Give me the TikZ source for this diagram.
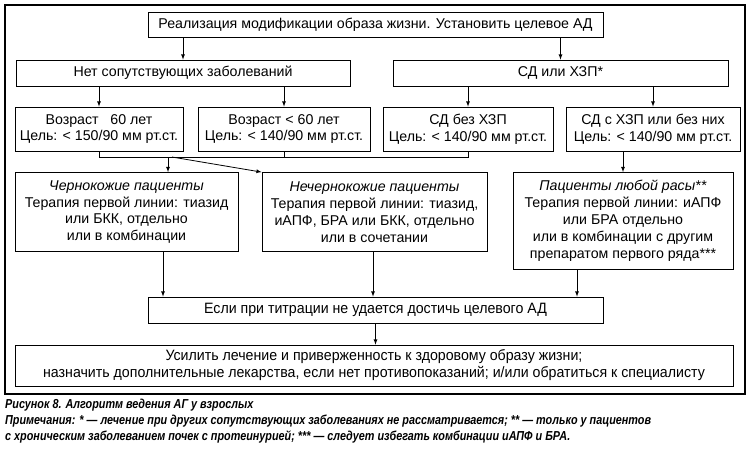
\documentclass[tikz,border=0pt]{standalone}
\usepackage{fontspec}
\setmainfont{Liberation Sans}
\newfontfamily\condfont{Liberation Sans}[FakeStretch=0.945]
\newfontfamily\capfont{Liberation Sans}[FakeStretch=0.833]
\newcommand\boxsize{\fontsize{14.2}{16.9}\selectfont}
\newcommand\condsize{\fontsize{15}{17}\selectfont}

\begin{document}
\begin{tikzpicture}[>=latex, x=1pt, y=-1pt, font=\boxsize,
    box/.style={draw, line width=0.8pt, align=center, inner sep=2pt},
    link/.style={line width=0.8pt}]
        \useasboundingbox (0,0) rectangle (751,451);
        \draw[line width=1.2pt] (5,5) rectangle (745,394);
        %top rows
        \node[box, minimum width=455, minimum height=25] (start) at (375.5,24.5) {Реализация модификации образа жизни. Установить целевое АД};
        \node[box, minimum width=334, minimum height=26] (nocom) at (183,73) {Нет сопутствующих заболеваний};
        \node[box, minimum width=335, minimum height=26] (dmckd) at (560.5,73) {СД или ХЗП*};
        %target values
        \node[box, minimum width=168, minimum height=44] (old) at (99,129) {Возраст\ \ \ 60 лет\\Цель: < 150/90 мм рт.ст.};
        \node[box, minimum width=172, minimum height=44] (young) at (284,129) {Возраст < 60 лет\\Цель: < 140/90 мм рт.ст.};
        \node[box, minimum width=170, minimum height=44] (dmonly) at (468,129) {СД без ХЗП\\Цель: < 140/90 мм рт.ст.};
        \node[box, minimum width=174, minimum height=44] (ckd) at (653,129) {СД с ХЗП или без них\\Цель: < 140/90 мм рт.ст.};
        %first line therapy
        \node[box, minimum width=223, minimum height=79] (black) at (126.5,212) {\textit{Чернокожие пациенты}\\Терапия первой линии: тиазид\\или БКК, отдельно\\или в комбинации};
        \node[box, minimum width=225, minimum height=79] (nonblack) at (374.5,212) {\textit{Нечернокожие пациенты}\\Терапия первой линии: тиазид,\\иАПФ, БРА или БКК, отдельно\\или в сочетании};
        \node[box, minimum width=220, minimum height=97] (anyrace) at (623,221) {\textit{Пациенты любой расы**}\\Терапия первой линии: иАПФ\\или БРА отдельно\\или в комбинации с другим\\препаратом первого ряда***};
        %bottom rows
        \node[box, minimum width=455, minimum height=26, font=\condsize\condfont] (titr) at (375.5,310) {Если при титрации не удается достичь целевого АД};
        \node[box, minimum width=718, minimum height=41, font=\condsize\condfont] (final) at (374,365.5) {Усилить лечение и приверженность к здоровому образу жизни;\\назначить дополнительные лекарства, если нет противопоказаний; и/или обратиться к специалисту};

        %arrows
        \draw[link,->] (start.south -| nocom) -- (nocom.north);
        \draw[link,->] (start.south -| dmckd) -- (dmckd.north);
        \foreach \a/\b in {nocom/old, nocom/young, dmckd/dmonly, dmckd/ckd}
        \draw[link,->] (\a.south -| \b) -- (\b.north);
        \coordinate (j) at (0,157);
        \coordinate (jb) at (168,157);
        \coordinate (jn) at (172,157);
        \draw[link] (old.south) |- (j -| dmonly) -- (dmonly.south);
        \draw[link] (young.south) -- (young |- j);
        \draw[link,->] (jb) -- (jb |- black.north);
        \draw[link,->] (jn) -- (nonblack.north west);
        \draw[link,->] (anyrace.north |- ckd.south) -- (anyrace.north);
        \foreach \n/\x in {black/163, nonblack/373, anyrace/577}
        \draw[link,->] (\n.south -| \x,0) -- (titr.north -| \x,0);
        \draw[link,->] (titr.south) -- (titr.south |- final.north);

        %caption
        \node[anchor=north west, align=left, inner sep=0pt, font=\fontsize{13}{16}\capfont\bfseries\itshape] (caption) at (5,398.5) {Рисунок 8. Алгоритм ведения АГ у взрослых\\Примечания: * — лечение при других сопутствующих заболеваниях не рассматривается; ** — только у пациентов\\с хроническим заболеванием почек с протеинурией; *** — следует избегать комбинации иАПФ и БРА.};
    \end{tikzpicture}
\end{document}
